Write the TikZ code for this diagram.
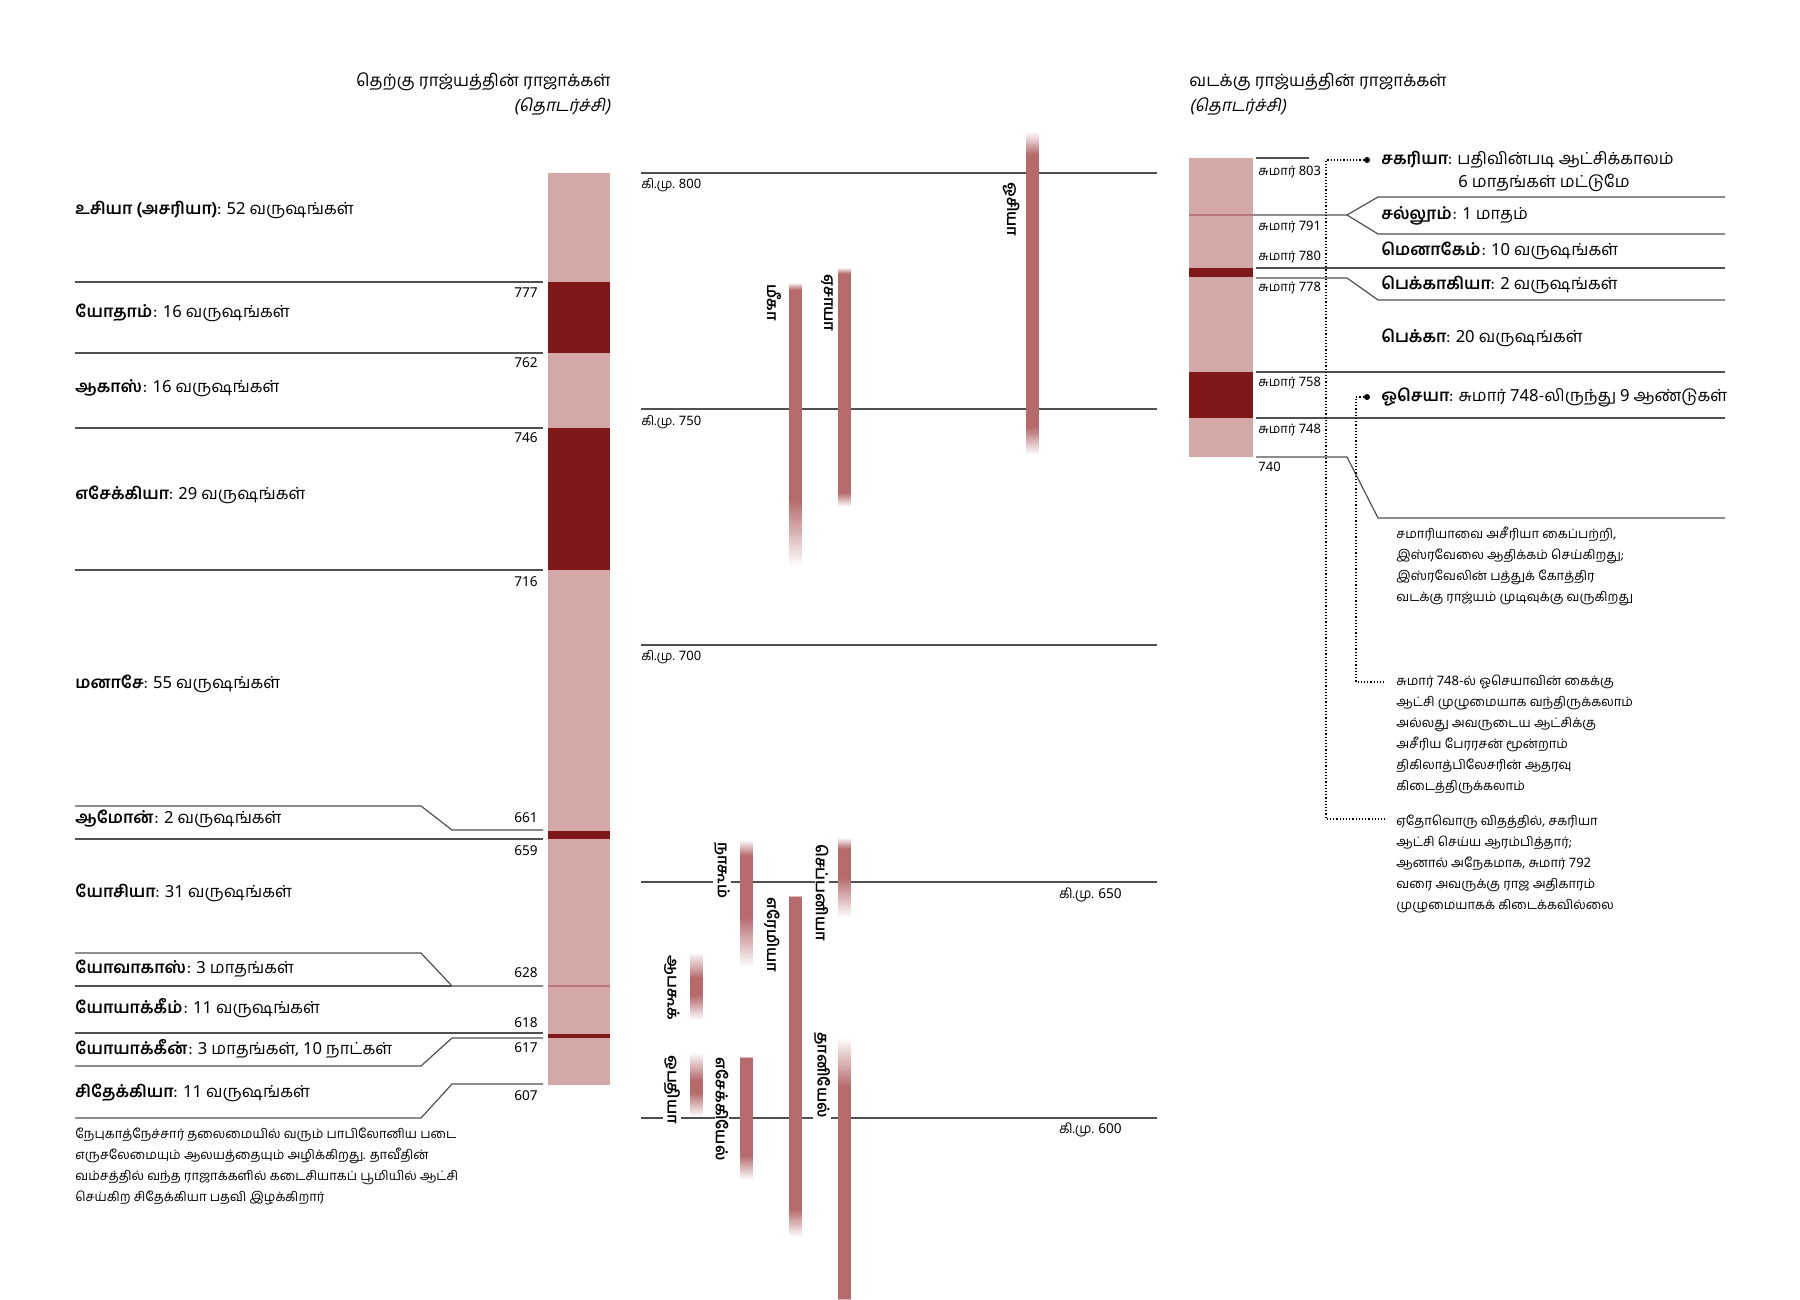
\documentclass[tikz,border=0pt]{standalone}
\usepackage{fontspec}
\setmainfont[Script=Tamil]{Hind Madurai}
\newfontfamily\tamslant[Script=Tamil,FakeSlant=0.2]{Hind Madurai}
\newfontfamily\digf{Noto Sans}
\newcommand\nm[1]{{\digf #1}}
\definecolor{lightbar}{RGB}{212,168,166}
\definecolor{darkbar}{RGB}{128,24,26}
\definecolor{proph}{RGB}{182,106,108}
\definecolor{rulegray}{RGB}{80,80,80}
\definecolor{seam}{RGB}{185,120,120}
% fade segment: x, y1, y2, percent at y1, percent at y2
\newcommand\fadeseg[5]{%
  \foreach \i in {0,...,23}{%
    \pgfmathsetmacro\pct{#4+(#5-#4)*(\i+0.5)/24}%
    \pgfmathsetmacro\ya{#2+(#3-#2)*\i/24}%
    \pgfmathsetmacro\yb{#2+(#3-#2)*(\i+1)/24+0.4}%
    \fill[proph!\pct!white] (#1-6.5,\ya) rectangle (#1+6.5,\yb);
  }}
\newcommand\probar[5]{%
  \fadeseg{#1}{#2}{#3}{0}{100}
  \fill[proph] (#1-6.5,#3) rectangle (#1+6.5,#4);
  \fadeseg{#1}{#4}{#5}{100}{0}}
\begin{document}
\begin{tikzpicture}[x=0.5pt,y=-0.5pt,
  kinglbl/.style={anchor=west,inner sep=0pt,font=\fontsize{8.3}{10}\selectfont},
  titlelbl/.style={inner sep=0pt,font=\fontsize{8.5}{10}\selectfont},
  yrl/.style={anchor=east,inner sep=0pt,font=\fontsize{6.8}{8}\selectfont},
  yrr/.style={anchor=west,inner sep=0pt,font=\fontsize{6.5}{8}\selectfont},
  notetxt/.style={anchor=north west,inner sep=0pt,align=left,font=\fontsize{6.5}{10.5}\selectfont},
  proname/.style={rotate=-90,anchor=west,fill=white,inner xsep=1pt,inner ysep=0.5pt,font=\bfseries\fontsize{7.7}{9}\selectfont},
  tl/.style={draw=rulegray,line width=0.6pt},
  dots/.style={draw=black,densely dotted,line width=0.6pt}
]
\useasboundingbox (0,0) rectangle (1800,1300);

% ---------- titles
\node[titlelbl,anchor=east] (tS) at (611,82) {தெற்கு ராஜ்யத்தின் ராஜாக்கள்};
\node[titlelbl,anchor=east] (tS2) at (611,107) {\tamslant (தொடர்ச்சி)};
\node[titlelbl,anchor=west] (tN) at (1189,82) {வடக்கு ராஜ்யத்தின் ராஜாக்கள்};
\node[titlelbl,anchor=west] (tN2) at (1189,107) {\tamslant (தொடர்ச்சி)};

% ---------- left (south) bar
\fill[lightbar] (548,173) rectangle (610,1085);
\fill[darkbar] (548,282) rectangle (610,353);
\fill[darkbar] (548,428) rectangle (610,570);
\fill[darkbar] (548,831) rectangle (610,839);
\fill[darkbar] (548,1034) rectangle (610,1038);
\draw[seam,line width=0.6pt] (548,986) -- (610,986);

% left lines
\draw[tl] (75,282) -- (543,282);
\draw[tl] (75,353) -- (543,353);
\draw[tl] (75,428) -- (543,428);
\draw[tl] (75,570) -- (543,570);
\draw[tl] (75,806) -- (421,806) -- (452,830) -- (543,830);
\draw[tl] (75,839) -- (543,839);
\draw[tl] (75,953) -- (421,953) -- (452,986) -- (543,986);
\draw[tl] (75,986) -- (452,986);
\draw[tl] (75,1033) -- (543,1033);
\draw[tl] (543,1038) -- (452,1038) -- (421,1066) -- (75,1066);
\draw[tl] (543,1084) -- (452,1084) -- (421,1118) -- (75,1118);

% left years
\node[yrl] (y777) at (538,293) {\nm{777}};
\node[yrl] (y762) at (538,363) {\nm{762}};
\node[yrl] (y746) at (538,438) {\nm{746}};
\node[yrl] (y716) at (538,582) {\nm{716}};
\node[yrl] (y661) at (538,818) {\nm{661}};
\node[yrl] (y659) at (538,851) {\nm{659}};
\node[yrl] (y628) at (538,973) {\nm{628}};
\node[yrl] (y618) at (538,1023) {\nm{618}};
\node[yrl] (y617) at (538,1048) {\nm{617}};
\node[yrl] (y607) at (538,1096) {\nm{607}};

% kings south
\node[kinglbl] (k1) at (75,210) {\textbf{உசியா (அசரியா)}: \nm{52} வருஷங்கள்};
\node[kinglbl] (k2) at (75,313) {\textbf{யோதாம்}: \nm{16} வருஷங்கள்};
\node[kinglbl] (k3) at (75,388) {\textbf{ஆகாஸ்}: \nm{16} வருஷங்கள்};
\node[kinglbl] (k4) at (75,495) {\textbf{எசேக்கியா}: \nm{29} வருஷங்கள்};
\node[kinglbl] (k5) at (75,684) {\textbf{மனாசே}: \nm{55} வருஷங்கள்};
\node[kinglbl] (k6) at (75,819) {\textbf{ஆமோன்}: \nm{2} வருஷங்கள்};
\node[kinglbl] (k7) at (75,893) {\textbf{யோசியா}: \nm{31} வருஷங்கள்};
\node[kinglbl] (k8) at (75,969) {\textbf{யோவாகாஸ்}: \nm{3} மாதங்கள்};
\node[kinglbl] (k9) at (75,1008) {\textbf{யோயாக்கீம்}: \nm{11} வருஷங்கள்};
\node[kinglbl] (k10) at (75,1049) {\textbf{யோயாக்கீன்}: \nm{3} மாதங்கள், \nm{10} நாட்கள்};
\node[kinglbl] (k11) at (75,1093) {\textbf{சிதேக்கியா}: \nm{11} வருஷங்கள்};

\node[notetxt] (foot) at (75,1128) {நேபுகாத்நேச்சார் தலைமையில் வரும் பாபிலோனிய படை\\
எருசலேமையும் ஆலயத்தையும் அழிக்கிறது. தாவீதின்\\
வம்சத்தில் வந்த ராஜாக்களில் கடைசியாகப் பூமியில் ஆட்சி\\
செய்கிற சிதேக்கியா பதவி இழக்கிறார்};

% ---------- middle timeline
\draw[tl] (641,173) -- (1157,173);
\draw[tl] (641,409) -- (1157,409);
\draw[tl] (641,645) -- (1157,645);
\draw[tl] (641,882) -- (1157,882);
\draw[tl] (641,1118) -- (1157,1118);
\node[yrr] (c800) at (641,185) {கி.மு. \nm{800}};
\node[yrr] (c750) at (641,422) {கி.மு. \nm{750}};
\node[yrr] (c700) at (641,657) {கி.மு. \nm{700}};
\node[yrl] (c650) at (1122,895) {கி.மு. \nm{650}};
\node[yrl] (c600) at (1122,1130) {கி.மு. \nm{600}};

% prophet bars
\probar{1032}{132}{155}{428}{455}
\probar{795}{283}{290}{500}{567}
\probar{844}{268}{274}{493}{507}
\probar{746}{840}{856}{918}{967}
\probar{844}{838}{849}{878}{918}
\probar{795}{896}{897}{1210}{1237}
\probar{696}{953}{978}{996}{1020}
\probar{696}{1053}{1080}{1093}{1117}
\probar{746}{1057}{1058}{1156}{1180}
\probar{844}{1038}{1087}{1299}{1300}

% prophet names
\node[proname] (pHos) at (1011,180) {ஓசியா};
\node[proname] (pMic) at (774,282) {மீகா};
\node[proname] (pIsa) at (827,272) {ஏசாயா};
\node[proname] (pNah) at (722,840) {நாகூம்};
\node[proname] (pZep) at (822,842) {செப்பனியா};
\node[proname] (pJer) at (772,895) {எரேமியா};
\node[proname] (pHab) at (672,953) {ஆபகூக்};
\node[proname] (pOba) at (672,1053) {ஒபதியா};
\node[proname] (pEze) at (722,1055) {எசேக்கியேல்};
\node[proname] (pDan) at (822,1030) {தானியேல்};

% ---------- right (north) bar
\fill[lightbar] (1189,158) rectangle (1253,457);
\fill[darkbar] (1189,268) rectangle (1253,277);
\fill[darkbar] (1189,372) rectangle (1253,418);
\draw[seam,line width=0.6pt] (1189,215) -- (1253,215);

\draw[tl] (1256,158) -- (1309,158);
\draw[tl] (1253,215) -- (1347,215) -- (1378,197) -- (1725,197);
\draw[tl] (1347,215) -- (1378,234) -- (1725,234);
\draw[tl] (1256,268) -- (1725,268);
\draw[tl] (1256,278) -- (1347,278) -- (1378,300) -- (1725,300);
\draw[tl] (1256,372) -- (1725,372);
\draw[tl] (1256,418) -- (1725,418);
\draw[tl] (1256,457) -- (1347,457) -- (1378,518) -- (1725,518);

\node[yrr] (r803) at (1258,172) {சுமார் \nm{803}};
\node[yrr] (r791) at (1258,227) {சுமார் \nm{791}};
\node[yrr] (r780) at (1258,257) {சுமார் \nm{780}};
\node[yrr] (r778) at (1258,288) {சுமார் \nm{778}};
\node[yrr] (r758) at (1258,383) {சுமார் \nm{758}};
\node[yrr] (r748) at (1258,430) {சுமார் \nm{748}};
\node[yrr] (r740) at (1258,467) {\nm{740}};

% north kings
\node[kinglbl] (n1) at (1381,160) {\textbf{சகரியா}: பதிவின்படி ஆட்சிக்காலம்};
\node[kinglbl] (n1b) at (1458,183) {\nm{6} மாதங்கள் மட்டுமே};
\node[kinglbl] (n2) at (1381,216) {\textbf{சல்லூம்}: \nm{1} மாதம்};
\node[kinglbl] (n3) at (1381,251) {\textbf{மெனாகேம்}: \nm{10} வருஷங்கள்};
\node[kinglbl] (n4) at (1381,285) {\textbf{பெக்காகியா}: \nm{2} வருஷங்கள்};
\node[kinglbl] (n5) at (1381,338) {\textbf{பெக்கா}: \nm{20} வருஷங்கள்};
\node[kinglbl] (n6) at (1381,397) {\textbf{ஓசெயா}: சுமார் \nm{748}-லிருந்து \nm{9} ஆண்டுகள்};

% notes
\node[notetxt] (note1) at (1396,527) {சமாரியாவை அசீரியா கைப்பற்றி,\\
இஸ்ரவேலை ஆதிக்கம் செய்கிறது;\\
இஸ்ரவேலின் பத்துக் கோத்திர\\
வடக்கு ராஜ்யம் முடிவுக்கு வருகிறது};
\node[notetxt] (note2) at (1396,675) {சுமார் \nm{748}-ல் ஓசெயாவின் கைக்கு\\
ஆட்சி முழுமையாக வந்திருக்கலாம்\\
அல்லது அவருடைய ஆட்சிக்கு\\
அசீரிய பேரரசன் மூன்றாம்\\
திகிலாத்பிலேசரின் ஆதரவு\\
கிடைத்திருக்கலாம்};
\node[notetxt] (note3) at (1396,815) {ஏதோவொரு விதத்தில், சகரியா\\
ஆட்சி செய்ய ஆரம்பித்தார்;\\
ஆனால் அநேகமாக, சுமார் \nm{792}\\
வரை அவருக்கு ராஜ அதிகாரம்\\
முழுமையாகக் கிடைக்கவில்லை};

% dotted leaders
\fill (1367,160) circle (3) coordinate (b1);
\fill (1367,397) circle (3) coordinate (b2);
\coordinate (e3) at (1385,819);
\coordinate (e2) at (1385,682);
\draw[dots] (b1) -- (1326,160) -- (1326,819) -- (e3);
\draw[dots] (b2) -- (1356,397) -- (1356,682) -- (e2);
\end{tikzpicture}
\end{document}
